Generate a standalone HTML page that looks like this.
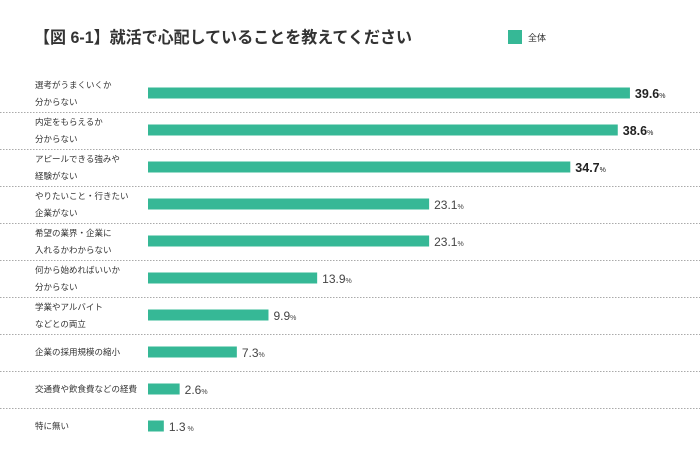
<!DOCTYPE html>
<html><head><meta charset="utf-8"><style>
body{margin:0;background:#fff;font-family:"Liberation Sans","Noto Sans CJK JP",sans-serif;}
#wrap{position:relative;width:700px;height:454px;overflow:hidden;}
</style></head><body>
<div id="wrap">
<svg id="svg" width="700" height="454" xmlns="http://www.w3.org/2000/svg">
<text x="34" y="43" font-size="16.5" font-weight="bold" fill="#333" textLength="378" lengthAdjust="spacingAndGlyphs" font-family="Liberation Sans, Noto Sans CJK JP, sans-serif">【図 6-1】就活で心配していることを教えてください</text>
<rect x="508" y="30" width="14" height="14" fill="#36b896"/>
<text x="528" y="41" font-size="9" fill="#333" font-family="Liberation Sans, Noto Sans CJK JP, sans-serif">全体</text>
<g id="rows"></g>
</svg>
</div>
<script>
const categories=[["選考がうまくいくか","分からない"],["内定をもらえるか","分からない"],["アピールできる強みや","経験がない"],["やりたいこと・行きたい","企業がない"],["希望の業界・企業に","入れるかわからない"],["何から始めればいいか","分からない"],["学業やアルバイト","などとの両立"],["企業の採用規模の縮小"],["交通費や飲食費などの経費"],["特に無い"]];
const values=[39.6,38.6,34.7,23.1,23.1,13.9,9.9,7.3,2.6,1.3];
const ns="http://www.w3.org/2000/svg";
const g=document.getElementById('rows');
const x0=148,scale=12.17,y0=93,step=37,bh=11;
const xs=v=>x0+v*scale;
function mk(t,a){const e=document.createElementNS(ns,t);for(const k in a)e.setAttribute(k,a[k]);g.appendChild(e);return e;}
values.forEach((v,i)=>{
 const cy=y0+i*step;
 const lab=categories[i];
 lab.forEach((l,j)=>{
  const t=mk('text',{x:35,y:(lab.length==2?cy-5+j*17:cy+3),'font-size':8.5,fill:'#333'});
  
  
  t.textContent=l;
 });
 const r=mk('rect',{x:x0,y:cy-bh/2,width:xs(v)-x0,height:bh,fill:'#36b896'});
 
 
 const bold=i<3;
 const t=mk('text',{x:xs(v)+5,y:cy+5,'font-size':bold?12.5:12,'font-weight':bold?'bold':'normal',fill:bold?'#222':'#444'});
 
 
 t.textContent=v.toFixed(1);
 const p=document.createElementNS(ns,'tspan');p.setAttribute('font-size','7');p.setAttribute('font-weight','normal');p.textContent=(i==9?' ':'')+'%';t.appendChild(p);
 if(i<values.length-1){
  const ln=mk('line',{x1:0,x2:700,y1:cy+step/2+1,y2:cy+step/2+1,stroke:'#aaa','stroke-width':1,'stroke-dasharray':'1.5,1.5'});
  
  
 }
});
</script>
</body></html>
